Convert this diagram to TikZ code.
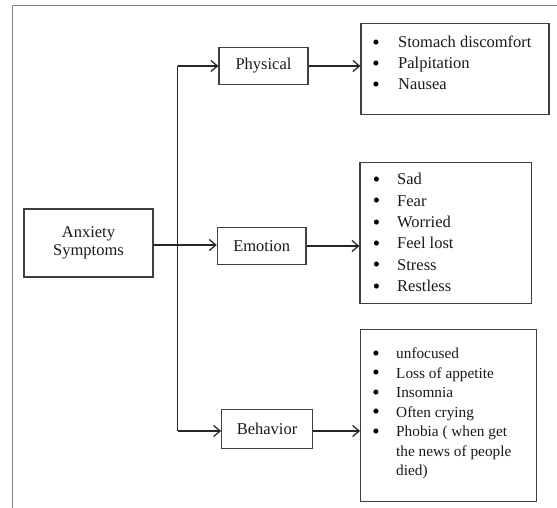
\documentclass[tikz,border=0pt]{standalone}
\usepackage{fontspec}
\setmainfont{Liberation Serif}
\usetikzlibrary{arrows.meta}
\begin{document}
\begin{tikzpicture}[x=1pt,y=-1pt,
  box/.style={draw=black!75,line width=1.2pt,inner sep=0pt,align=center,
    font=\fontsize{16.5}{18.3}\selectfont,text=black!90},
  item/.style={font=\fontsize{16.5}{21}\selectfont,inner sep=0pt,anchor=base west,text=black!90},
  itemsm/.style={font=\fontsize{15.3}{19}\selectfont,inner sep=0pt,anchor=base west,text=black!90},
  bul/.style={font=\fontsize{21}{21}\selectfont,inner sep=0pt,anchor=base,text=black},
  conn/.style={draw=black!85,line width=1.25pt},
  arr/.style={conn,-{Straight Barb[length=6.5pt,width=11pt,line width=1.25pt]}},
  ]
\useasboundingbox (0,0) rectangle (557,508);
% outer frame (top and left edges)
\draw[black!50,line width=1pt] (12.3,508) -- (12.3,5.3) -- (557,5.3);

% main boxes
\node[box,minimum width=129pt,minimum height=68pt] (anx) at (88.5,243) {Anxiety\\Symptoms};
\node[box,minimum width=89pt,minimum height=37.7pt] (phys) at (263.5,66) {Physical};
\node[box,minimum width=88.7pt,minimum height=37.7pt] (emo) at (261.7,246) {Emotion};
\node[box,minimum width=90.6pt,minimum height=39pt] (beh) at (267,429) {Behavior};

% list boxes
\node[box,minimum width=188pt,minimum height=91pt] (l1) at (455,68.8) {};
\node[box,minimum width=171.7pt,minimum height=140.6pt] (l2) at (445.85,233) {};
\node[box,minimum width=176pt,minimum height=172.4pt] (l3) at (448.7,415.5) {};

% connectors
\coordinate (vt) at (177.5,66);
\coordinate (vb) at (177.5,431);
\coordinate (ha) at (160,245);
\draw[conn] (vt) -- (vb);
\draw[arr] (vt) -- (vt -| phys.west);
\draw[arr] (vb) -- (vb -| beh.west);
\draw[arr] (anx.east |- ha) -- (emo.west |- ha);
\draw[arr] (phys.east) -- (phys.east -| l1.west);
\draw[arr] (emo.east) -- (emo.east -| l2.west);
\draw[arr] (beh.east |- vb) -- (l3.west |- vb);

% list 1
\foreach \txt [count=\i] in {Stomach discomfort,Palpitation,Nausea} {
  \pgfmathsetmacro\yy{48+21*(\i-1)}
  \node[item] (pa\i) at (398,\yy) {\txt};
  \node[bul] (pb\i) at (376,\yy+1.5) {\textbullet};
}
% list 2
\foreach \txt [count=\i] in {Sad,Fear,Worried,Feel lost,Stress,Restless} {
  \pgfmathsetmacro\yy{185+21.3*(\i-1)}
  \node[item] (ea\i) at (397,\yy) {\txt};
  \node[bul] (eb\i) at (376.5,\yy+1.5) {\textbullet};
}
% list 3
\foreach \txt [count=\i] in {unfocused,Loss of appetite,Insomnia,Often crying,Phobia ( when get} {
  \pgfmathsetmacro\yy{358.5+19.5*(\i-1)}
  \node[itemsm] (ba\i) at (396,\yy) {\txt};
  \node[bul] (bb\i) at (376,\yy+1.5) {\textbullet};
}
\node[itemsm] (ba6) at (396,456) {the news of people};
\node[itemsm] (ba7) at (396,475.5) {died)};
\end{tikzpicture}
\end{document}
